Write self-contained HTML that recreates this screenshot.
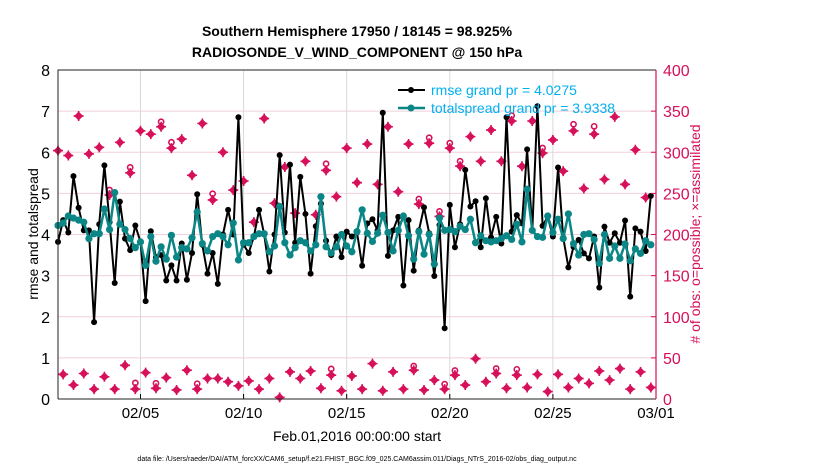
<!DOCTYPE html>
<html><head><meta charset="utf-8"><style>
body{margin:0;background:#fff;}
svg text{font-family:"Liberation Sans",sans-serif;}
</style></head><body>
<svg id="chart" width="830" height="470" xmlns="http://www.w3.org/2000/svg">
<rect width="830" height="470" fill="#fff"/>
<g id="grid"></g>
<g id="marks"></g>
<g id="axes"></g>
<text x="357" y="36" text-anchor="middle" font-size="14" font-weight="bold">Southern Hemisphere 17950 / 18145 = 98.925%</text>
<text x="357" y="57" text-anchor="middle" font-size="14" font-weight="bold">RADIOSONDE_V_WIND_COMPONENT @ 150 hPa</text>
<text transform="translate(38,234) rotate(-90)" text-anchor="middle" font-size="14">rmse and totalspread</text>
<text transform="translate(700,234) rotate(-90)" text-anchor="middle" font-size="14" fill="#d6105a"># of obs: o=possible; ×=assimilated</text>
<text x="357" y="441" text-anchor="middle" font-size="14">Feb.01,2016 00:00:00 start</text>
<text x="357" y="461" text-anchor="middle" font-size="7">data file: /Users/raeder/DAI/ATM_forcXX/CAM6_setup/f.e21.FHIST_BGC.f09_025.CAM6assim.011/Diags_NTrS_2016-02/obs_diag_output.nc</text>
<g>
<line x1="398" y1="90" x2="425" y2="90" stroke="#000" stroke-width="2"/><circle cx="411" cy="90" r="3" fill="#000"/>
<text x="431" y="95" font-size="14" fill="#00b0f0">rmse grand pr = 4.0275</text>
<line x1="398" y1="108" x2="425" y2="108" stroke="#0a8686" stroke-width="2.5"/><circle cx="411" cy="108" r="3.5" fill="#0a8686"/>
<text x="431" y="113" font-size="14" fill="#00b0f0">totalspread grand pr = 3.9338</text>
</g>
</svg>
<script>
const rmse=[3.82,4.35,4.05,5.42,4.65,4.1,4.1,1.87,4.25,5.68,4.3,2.82,4.8,3.9,3.62,4.22,3.82,2.38,4.08,3.45,3.5,2.88,3.25,2.88,3.78,2.9,3.55,4.98,3.75,3.05,3.55,2.8,4.0,4.6,4.0,6.85,3.75,3.55,3.95,4.6,4.0,3.1,4.0,5.93,4.05,5.7,3.8,5.4,4.5,3.05,4.2,4.75,3.85,3.5,3.95,3.45,
4.07,3.95,4.05,3.24,4.27,4.37,4.1,6.96,3.48,4.1,4.43,2.76,4.35,3.12,4.1,4.66,4.03,2.99,4.23,1.72,4.72,3.69,4.25,5.57,4.68,4.81,3.69,4.88,3.93,4.43,3.78,6.85,4.07,4.47,4.27,6.07,4.1,7.12,4.21,4.43,3.95,5.63,3.93,3.2,3.7,3.87,3.54,3.42,3.95,2.71,4.19,3.8,4.03,3.8,4.34,2.49,4.15,4.07,3.6,4.94];
const spread=[4.22,4.28,4.45,4.4,4.35,4.3,3.9,4.02,4.02,4.62,4.12,5.02,4.25,4.12,3.9,3.68,3.82,3.25,3.95,3.35,3.7,3.4,3.98,3.45,3.68,3.65,3.92,4.55,3.78,3.6,3.95,4.02,3.95,3.75,4.28,3.38,3.8,3.8,3.95,4.02,4.02,3.58,3.72,4.68,3.8,3.5,3.68,3.85,3.8,3.6,3.75,4.92,3.7,3.55,3.7,4.0,
3.72,3.58,4.07,4.6,4.03,3.83,4.03,4.47,4.05,3.6,4.1,4.45,3.97,3.4,4.07,3.52,4.0,3.28,4.4,4.1,4.12,4.07,4.2,4.12,4.37,3.8,3.97,3.85,3.82,3.85,3.9,3.97,3.88,4.25,3.82,5.1,4.1,3.95,3.93,4.45,4.05,4.37,3.9,4.5,3.78,3.5,4.0,4.02,3.88,3.3,4.0,3.42,3.72,3.42,3.77,3.36,3.65,3.54,3.85,3.75];
const obsHigh=[302,296,344,298,306,248,312,275,326,322,331,305,316,272,335,242,300,254,265,215,341,238,282,226,289,224,278,246,
305,263,310,261,331,252,310,237,311,222,305,283,319,289,327,289,338,283,338,299,315,277,326,256,322,267,343,261,303,245];
const obsLow=[30,17,31,12,27,12,41,12,32,13,26,11,35,12,25,25,21,16,22,12,25,2,33,25,34,13,29,10,
28,12,43,10,33,12,35,11,23,12,29,17,49,21,31,13,29,14,30,9,30,14,25,19,34,23,37,12,33,14,0];
const possibleExtra={10:5,14:6,15:8,19:5,20:5,22:7,27:6,30:8,52:9,53:8,69:3,70:5,72:6,74:5,75:5,76:5,77:4,78:5,85:5,88:6,89:7,94:5,100:9,104:12};
const dateTicks=["02/05","02/10","02/15","02/20","02/25","03/01"];
const dateTickDays=[4,9,14,19,24,29];
const leftTicks=[0,1,2,3,4,5,6,7,8];
const rightTicks=[0,50,100,150,200,250,300,350,400];

const X0=58,X1=656,Y0=399,Y1=70;
const xs=d=>X0+(X1-X0)*d/29;
const yl=v=>Y0-(Y0-Y1)*v/8;
const yr=c=>Y0-(Y0-Y1)*c/400;
const NS="http://www.w3.org/2000/svg";
function mk(tag,attrs,parent){const e=document.createElementNS(NS,tag);for(const k in attrs)e.setAttribute(k,attrs[k]);parent.appendChild(e);return e;}
const grid=document.getElementById('grid'),marks=document.getElementById('marks'),axes=document.getElementById('axes');
leftTicks.forEach(v=>{if(v>0&&v<8){const l=mk('line',{x1:X0,x2:X1,y1:yl(v),y2:yl(v),stroke:'#f2cfdc','stroke-width':1},grid);

}
const t=mk('text',{x:X0-8,y:yl(v)+6,'text-anchor':'end','font-size':16},axes);t.textContent=v;

});
rightTicks.forEach(c=>{mk('line',{x1:X1,x2:X1-5,y1:yr(c),y2:yr(c),stroke:'#d6105a'},axes);
const t=mk('text',{x:X1+7,y:yr(c)+6,'font-size':16,fill:'#d6105a'},axes);t.textContent=c;

});
dateTicks.forEach((lab,i)=>{const x=xs(dateTickDays[i]);
if(i<dateTicks.length-1){const g=mk('line',{x1:x,x2:x,y1:Y0,y2:Y1,stroke:'#d8d8d8'},grid);

}
mk('line',{x1:x,x2:x,y1:Y0,y2:Y0-5,stroke:'#000'},axes);
const t=mk('text',{x:x,y:Y0+19,'text-anchor':'middle','font-size':15},axes);t.textContent=lab;

});
const fr=mk('path',{d:`M${X0},${Y0}V${Y1}H${X1}M${X0},${Y0}H${X1}`,fill:'none',stroke:'#222','stroke-width':1},axes);


const ra=mk('line',{x1:X1,x2:X1,y1:Y0,y2:Y1,stroke:'#d6105a','stroke-width':1.2},axes);


function obsMark(x,y,extra){
 const g=mk('g',{},marks);
 
 
 if(extra){mk('circle',{cx:x,cy:y-3-extra*0.4,r:2.6,fill:'#fff',stroke:'#d6105a','stroke-width':1.6},g);}
 mk('path',{d:`M${x},${y-4.5}L${x+4.5},${y}L${x},${y+4.5}L${x-4.5},${y}Z`,fill:'#d6105a'},g);
 mk('path',{d:`M${x-5},${y}H${x+5}M${x},${y-5}V${y+5}`,stroke:'#d6105a','stroke-width':1.6},g);
}
const nObs=rmse.length+1;
for(let i=0;i<nObs;i++){const d=i*0.25;
 const c=(i%2===0)?obsHigh[i/2]:obsLow[(i-1)/2];
 if(c===undefined)continue;
 obsMark(xs(d),yr(c),possibleExtra[i]);}
function series(vals,color,w,r,name){
 const pts=vals.map((v,i)=>`${xs(i*0.25).toFixed(1)},${yl(v).toFixed(1)}`).join(' ');
 const pl=mk('polyline',{points:pts,fill:'none',stroke:color,'stroke-width':w,'stroke-linejoin':'round'},marks);
 
 
 vals.forEach((v,i)=>{const c=mk('circle',{cx:xs(i*0.25),cy:yl(v),r:r,fill:color},marks);
 
 });
}
series(rmse,'#000',2,3,'rmse');
series(spread,'#0a8686',2.5,3.6,'totalspread');
</script>
</body></html>
